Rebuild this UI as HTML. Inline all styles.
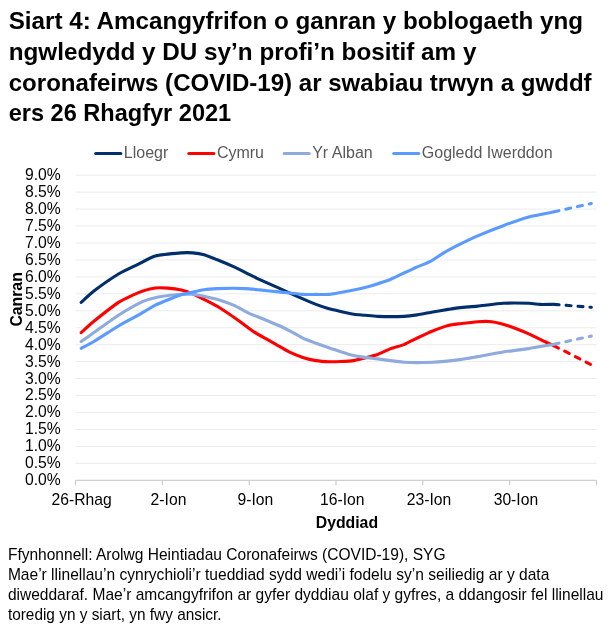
<!DOCTYPE html>
<html><head><meta charset="utf-8"><style>
html,body{margin:0;padding:0;background:#fff;}
body{width:616px;height:635px;overflow:hidden;}
svg{display:block;will-change:transform;}
text{font-family:"Liberation Sans",sans-serif;}
.tt{font-size:23.6px;font-weight:bold;fill:#000;}
.ax{font-size:15.7px;fill:#000;}
.bt{font-size:15.8px;font-weight:bold;fill:#000;}
.lg{font-size:16px;fill:#595959;}
.ft{font-size:15.7px;fill:#000;}
</style></head><body>
<svg width="616" height="635" viewBox="0 0 616 635">
<line x1="75.5" x2="596.5" y1="463.35" y2="463.35" stroke="#ececec" stroke-width="1"/>
<line x1="75.5" x2="596.5" y1="446.40" y2="446.40" stroke="#ececec" stroke-width="1"/>
<line x1="75.5" x2="596.5" y1="429.45" y2="429.45" stroke="#ececec" stroke-width="1"/>
<line x1="75.5" x2="596.5" y1="412.50" y2="412.50" stroke="#ececec" stroke-width="1"/>
<line x1="75.5" x2="596.5" y1="395.55" y2="395.55" stroke="#ececec" stroke-width="1"/>
<line x1="75.5" x2="596.5" y1="378.60" y2="378.60" stroke="#ececec" stroke-width="1"/>
<line x1="75.5" x2="596.5" y1="361.65" y2="361.65" stroke="#ececec" stroke-width="1"/>
<line x1="75.5" x2="596.5" y1="344.70" y2="344.70" stroke="#ececec" stroke-width="1"/>
<line x1="75.5" x2="596.5" y1="327.75" y2="327.75" stroke="#ececec" stroke-width="1"/>
<line x1="75.5" x2="596.5" y1="310.80" y2="310.80" stroke="#ececec" stroke-width="1"/>
<line x1="75.5" x2="596.5" y1="293.85" y2="293.85" stroke="#ececec" stroke-width="1"/>
<line x1="75.5" x2="596.5" y1="276.90" y2="276.90" stroke="#ececec" stroke-width="1"/>
<line x1="75.5" x2="596.5" y1="259.95" y2="259.95" stroke="#ececec" stroke-width="1"/>
<line x1="75.5" x2="596.5" y1="243.00" y2="243.00" stroke="#ececec" stroke-width="1"/>
<line x1="75.5" x2="596.5" y1="226.05" y2="226.05" stroke="#ececec" stroke-width="1"/>
<line x1="75.5" x2="596.5" y1="209.10" y2="209.10" stroke="#ececec" stroke-width="1"/>
<line x1="75.5" x2="596.5" y1="192.15" y2="192.15" stroke="#ececec" stroke-width="1"/>
<line x1="75.5" x2="596.5" y1="175.20" y2="175.20" stroke="#ececec" stroke-width="1"/>
<line x1="75.5" x2="596.5" y1="480.3" y2="480.3" stroke="#d0d0d0" stroke-width="1.3"/>
<line x1="75.50" x2="75.50" y1="480.3" y2="485.3" stroke="#d0d0d0" stroke-width="1.3"/>
<line x1="162.33" x2="162.33" y1="480.3" y2="485.3" stroke="#d0d0d0" stroke-width="1.3"/>
<line x1="249.17" x2="249.17" y1="480.3" y2="485.3" stroke="#d0d0d0" stroke-width="1.3"/>
<line x1="336.00" x2="336.00" y1="480.3" y2="485.3" stroke="#d0d0d0" stroke-width="1.3"/>
<line x1="422.83" x2="422.83" y1="480.3" y2="485.3" stroke="#d0d0d0" stroke-width="1.3"/>
<line x1="509.67" x2="509.67" y1="480.3" y2="485.3" stroke="#d0d0d0" stroke-width="1.3"/>
<line x1="596.50" x2="596.50" y1="480.3" y2="485.3" stroke="#d0d0d0" stroke-width="1.3"/>
<text x="60.7" y="485.2" text-anchor="end" class="ax">0.0%</text>
<text x="60.7" y="468.2" text-anchor="end" class="ax">0.5%</text>
<text x="60.7" y="451.3" text-anchor="end" class="ax">1.0%</text>
<text x="60.7" y="434.4" text-anchor="end" class="ax">1.5%</text>
<text x="60.7" y="417.4" text-anchor="end" class="ax">2.0%</text>
<text x="60.7" y="400.4" text-anchor="end" class="ax">2.5%</text>
<text x="60.7" y="383.5" text-anchor="end" class="ax">3.0%</text>
<text x="60.7" y="366.6" text-anchor="end" class="ax">3.5%</text>
<text x="60.7" y="349.6" text-anchor="end" class="ax">4.0%</text>
<text x="60.7" y="332.6" text-anchor="end" class="ax">4.5%</text>
<text x="60.7" y="315.7" text-anchor="end" class="ax">5.0%</text>
<text x="60.7" y="298.8" text-anchor="end" class="ax">5.5%</text>
<text x="60.7" y="281.8" text-anchor="end" class="ax">6.0%</text>
<text x="60.7" y="264.9" text-anchor="end" class="ax">6.5%</text>
<text x="60.7" y="247.9" text-anchor="end" class="ax">7.0%</text>
<text x="60.7" y="231.0" text-anchor="end" class="ax">7.5%</text>
<text x="60.7" y="214.0" text-anchor="end" class="ax">8.0%</text>
<text x="60.7" y="197.1" text-anchor="end" class="ax">8.5%</text>
<text x="60.7" y="180.1" text-anchor="end" class="ax">9.0%</text>
<text x="81.7" y="505.3" text-anchor="middle" class="ax">26-Rhag</text>
<text x="168.5" y="505.3" text-anchor="middle" class="ax">2-Ion</text>
<text x="255.4" y="505.3" text-anchor="middle" class="ax">9-Ion</text>
<text x="342.2" y="505.3" text-anchor="middle" class="ax">16-Ion</text>
<text x="429.0" y="505.3" text-anchor="middle" class="ax">23-Ion</text>
<text x="515.9" y="505.3" text-anchor="middle" class="ax">30-Ion</text>
<text x="346.9" y="528.1" text-anchor="middle" class="bt">Dyddiad</text>
<text transform="translate(21.8,299.4) rotate(-90)" x="0" y="0" text-anchor="middle" class="bt">Canran</text>
<path d="M81.20,302.40 C82.47,301.26 90.17,293.84 93.90,291.00 C97.63,288.16 114.15,276.64 118.50,274.00 C122.85,271.36 133.72,266.40 137.40,264.60 C141.08,262.80 150.91,257.17 155.30,256.00 C159.69,254.83 177.56,253.21 181.30,252.90 C185.04,252.59 190.43,252.72 192.70,252.90 C194.97,253.08 201.54,254.01 204.00,254.70 C206.46,255.39 214.46,258.65 217.30,259.80 C220.14,260.95 229.57,264.92 232.40,266.20 C235.23,267.48 243.14,271.39 245.60,272.60 C248.06,273.81 253.66,276.74 257.00,278.30 C260.34,279.86 274.70,286.26 279.00,288.20 C283.30,290.14 296.30,296.08 300.00,297.70 C303.70,299.32 313.26,303.35 316.00,304.40 C318.74,305.45 324.94,307.50 327.40,308.20 C329.86,308.90 337.96,310.79 340.60,311.40 C343.24,312.01 351.36,313.92 353.80,314.30 C356.24,314.68 362.62,314.99 365.00,315.20 C367.38,315.41 373.70,316.28 377.60,316.40 C381.50,316.52 400.03,316.55 404.00,316.40 C407.97,316.25 414.43,315.34 417.30,314.90 C420.17,314.46 429.62,312.55 432.70,312.00 C435.78,311.45 445.37,309.84 448.10,309.40 C450.83,308.96 457.04,307.93 460.00,307.60 C462.96,307.27 473.38,306.53 477.70,306.10 C482.02,305.67 498.10,303.58 503.20,303.30 C508.30,303.02 525.02,303.19 528.70,303.30 C532.38,303.41 537.56,304.30 540.00,304.40 C542.44,304.50 551.79,304.31 553.10,304.30" fill="none" stroke="#002f6c" stroke-width="3.1" stroke-linejoin="round" stroke-linecap="round"/>
<polyline points="553.1,304.3 591.3,307.3" fill="none" stroke="#002f6c" stroke-width="3.1" stroke-linecap="round" stroke-dasharray="5 7" stroke-dashoffset="-1"/>
<path d="M81.20,332.60 C82.47,331.47 90.17,324.32 93.90,321.30 C97.63,318.28 114.72,304.97 118.50,302.40 C122.28,299.83 129.25,296.74 131.70,295.60 C134.15,294.46 140.64,291.76 143.00,291.00 C145.36,290.24 152.84,288.29 155.30,288.00 C157.76,287.71 165.00,287.90 167.60,288.10 C170.20,288.30 178.79,289.43 181.30,290.00 C183.81,290.57 190.43,292.86 192.70,293.80 C194.97,294.74 201.27,297.98 204.00,299.40 C206.73,300.82 216.45,305.82 220.00,308.00 C223.55,310.18 236.10,318.81 239.50,321.20 C242.90,323.59 251.28,330.10 254.00,331.90 C256.72,333.70 264.47,337.93 266.70,339.20 C268.93,340.47 274.01,343.30 276.30,344.60 C278.59,345.90 286.95,350.92 289.60,352.20 C292.25,353.48 300.16,356.56 302.80,357.40 C305.44,358.24 313.35,360.17 316.00,360.60 C318.65,361.03 326.84,361.61 329.30,361.70 C331.76,361.79 338.15,361.61 340.60,361.50 C343.05,361.39 351.36,360.96 353.80,360.60 C356.24,360.24 362.62,358.51 365.00,357.90 C367.38,357.29 375.02,355.43 377.60,354.50 C380.18,353.57 388.16,349.59 390.80,348.60 C393.44,347.61 401.35,345.66 404.00,344.60 C406.65,343.54 414.43,339.36 417.30,338.00 C420.17,336.64 429.62,332.25 432.70,331.00 C435.78,329.75 445.37,326.23 448.10,325.50 C450.83,324.77 457.04,324.08 460.00,323.70 C462.96,323.32 474.52,321.90 477.70,321.70 C480.88,321.50 488.69,321.27 491.80,321.70 C494.91,322.13 505.11,324.79 508.80,326.00 C512.49,327.21 525.01,332.20 528.70,333.80 C532.39,335.40 543.26,340.85 545.70,342.00 C548.14,343.15 552.36,344.97 553.10,345.30" fill="none" stroke="#ff0000" stroke-width="3.1" stroke-linejoin="round" stroke-linecap="round"/>
<polyline points="553.1,345.3 591.3,364.8" fill="none" stroke="#ff0000" stroke-width="3.1" stroke-linecap="round" stroke-dasharray="5 7" stroke-dashoffset="-1"/>
<path d="M81.20,341.50 C82.47,340.61 90.17,335.23 93.90,332.60 C97.63,329.97 113.59,318.32 118.50,315.20 C123.41,312.08 139.32,303.15 143.00,301.40 C146.68,299.65 152.60,298.31 155.30,297.70 C158.00,297.09 167.40,295.64 170.00,295.30 C172.60,294.96 179.03,294.40 181.30,294.30 C183.57,294.20 190.43,294.10 192.70,294.30 C194.97,294.50 201.27,295.71 204.00,296.30 C206.73,296.89 216.94,299.27 220.00,300.20 C223.06,301.13 231.68,304.28 234.60,305.60 C237.52,306.92 246.28,312.04 249.20,313.40 C252.12,314.76 260.72,317.94 263.80,319.20 C266.88,320.46 277.42,324.84 280.00,326.00 C282.58,327.16 287.32,329.59 289.60,330.80 C291.88,332.01 300.16,336.86 302.80,338.10 C305.44,339.34 313.54,342.28 316.00,343.20 C318.46,344.12 324.94,346.45 327.40,347.30 C329.86,348.15 337.96,350.88 340.60,351.70 C343.24,352.52 351.36,354.93 353.80,355.50 C356.24,356.07 362.62,357.06 365.00,357.40 C367.38,357.74 373.70,358.42 377.60,358.90 C381.50,359.38 398.49,361.87 404.00,362.20 C409.51,362.53 427.10,362.46 432.70,362.20 C438.30,361.94 455.50,360.16 460.00,359.60 C464.50,359.04 473.38,357.36 477.70,356.60 C482.02,355.84 498.10,352.80 503.20,352.00 C508.30,351.20 523.71,349.35 528.70,348.60 C533.69,347.85 550.66,344.91 553.10,344.50" fill="none" stroke="#8faadc" stroke-width="3.1" stroke-linejoin="round" stroke-linecap="round"/>
<polyline points="553.1,344.5 591.3,336.0" fill="none" stroke="#8faadc" stroke-width="3.1" stroke-linecap="round" stroke-dasharray="5 7" stroke-dashoffset="-1"/>
<path d="M81.20,348.30 C82.47,347.62 90.17,343.73 93.90,341.50 C97.63,339.27 114.15,328.59 118.50,326.00 C122.85,323.41 133.72,317.68 137.40,315.60 C141.08,313.52 152.04,306.86 155.30,305.20 C158.56,303.54 167.40,300.04 170.00,299.00 C172.60,297.96 179.03,295.50 181.30,294.80 C183.57,294.10 190.43,292.51 192.70,292.00 C194.97,291.49 201.54,290.04 204.00,289.70 C206.46,289.36 214.46,288.75 217.30,288.60 C220.14,288.45 229.57,288.20 232.40,288.20 C235.23,288.20 242.89,288.43 245.60,288.60 C248.31,288.77 256.16,289.57 259.50,289.90 C262.84,290.23 274.67,291.45 279.00,291.90 C283.33,292.35 299.10,294.15 302.80,294.40 C306.50,294.65 313.35,294.40 316.00,294.40 C318.65,294.40 326.84,294.59 329.30,294.40 C331.76,294.21 338.15,292.95 340.60,292.50 C343.05,292.05 351.36,290.41 353.80,289.90 C356.24,289.39 363.06,287.87 365.00,287.40 C366.94,286.93 370.62,286.02 373.20,285.20 C375.78,284.38 387.72,280.42 390.80,279.20 C393.88,277.98 401.35,274.23 404.00,273.00 C406.65,271.77 414.65,268.06 417.30,266.90 C419.95,265.74 427.86,262.80 430.50,261.40 C433.14,260.00 440.75,254.62 443.70,252.90 C446.65,251.18 456.60,245.91 460.00,244.20 C463.40,242.49 473.38,237.65 477.70,235.80 C482.02,233.95 498.10,227.59 503.20,225.70 C508.30,223.81 523.71,218.27 528.70,216.90 C533.69,215.53 550.66,212.49 553.10,212.00" fill="none" stroke="#5b9bff" stroke-width="3.1" stroke-linejoin="round" stroke-linecap="round"/>
<polyline points="553.1,212.0 591.3,203.5" fill="none" stroke="#5b9bff" stroke-width="3.1" stroke-linecap="round" stroke-dasharray="5 7" stroke-dashoffset="-1"/>
<line x1="95.7" x2="120.8" y1="153.4" y2="153.4" stroke="#002f6c" stroke-width="3" stroke-linecap="round"/>
<text x="123.8" y="157.9" class="lg">Lloegr</text>
<line x1="188.8" x2="213.9" y1="153.4" y2="153.4" stroke="#ff0000" stroke-width="3" stroke-linecap="round"/>
<text x="216.9" y="157.9" class="lg">Cymru</text>
<line x1="284.1" x2="309.2" y1="153.4" y2="153.4" stroke="#8faadc" stroke-width="3" stroke-linecap="round"/>
<text x="312.2" y="157.9" class="lg">Yr Alban</text>
<line x1="393.7" x2="418.8" y1="153.4" y2="153.4" stroke="#5b9bff" stroke-width="3" stroke-linecap="round"/>
<text x="421.8" y="157.9" class="lg">Gogledd Iwerddon</text>
<text x="8.7" y="29.0" class="tt" textLength="574.4" lengthAdjust="spacingAndGlyphs">Siart 4: Amcangyfrifon o ganran y boblogaeth yng</text>
<text x="8.7" y="59.8" class="tt" textLength="467.7" lengthAdjust="spacingAndGlyphs">ngwledydd y DU sy’n profi’n bositif am y</text>
<text x="8.7" y="90.6" class="tt" textLength="582.9" lengthAdjust="spacingAndGlyphs">coronafeirws (COVID-19) ar swabiau trwyn a gwddf</text>
<text x="8.7" y="121.4" class="tt" textLength="222.5" lengthAdjust="spacingAndGlyphs">ers 26 Rhagfyr 2021</text>
<text x="7.9" y="559.9" class="ft" textLength="437.6" lengthAdjust="spacingAndGlyphs">Ffynhonnell: Arolwg Heintiadau Coronafeirws (COVID-19), SYG</text>
<text x="7.9" y="579.9" class="ft" textLength="541.4" lengthAdjust="spacingAndGlyphs">Mae’r llinellau’n cynrychioli’r tueddiad sydd wedi’i fodelu sy’n seiliedig ar y data</text>
<text x="7.9" y="599.9" class="ft" textLength="595.6" lengthAdjust="spacingAndGlyphs">diweddaraf. Mae’r amcangyfrifon ar gyfer dyddiau olaf y gyfres, a ddangosir fel llinellau</text>
<text x="7.9" y="619.9" class="ft" textLength="213.7" lengthAdjust="spacingAndGlyphs">toredig yn y siart, yn fwy ansicr.</text>
</svg>
</body></html>
